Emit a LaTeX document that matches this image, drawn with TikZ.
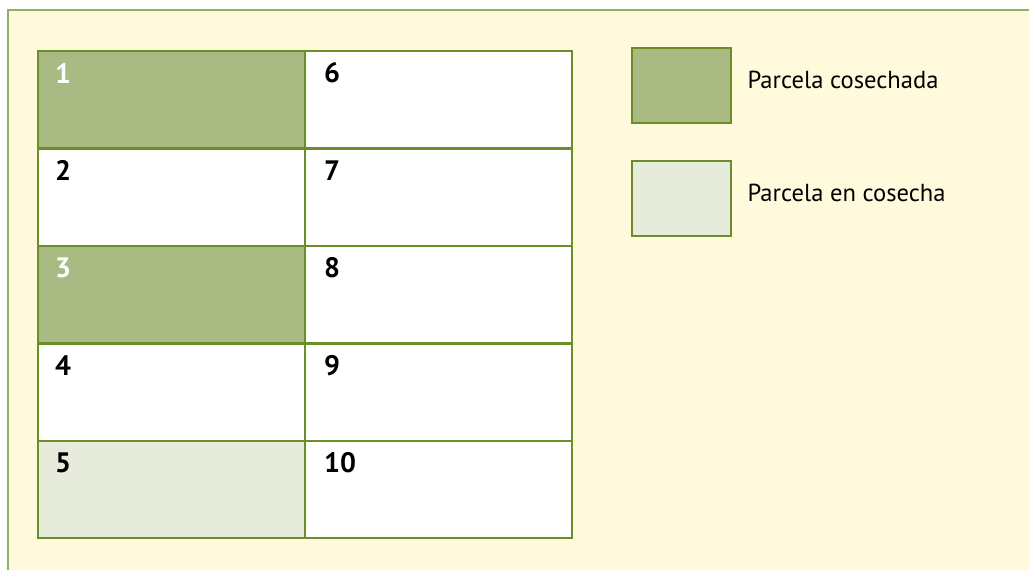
\documentclass[tikz,border=0pt]{standalone}
\usepackage{fontspec}
\setmainfont{PT Sans}
\usetikzlibrary{positioning}
\definecolor{Frame}{HTML}{92B064}
\definecolor{Paper}{HTML}{FFFADC}
\definecolor{Edge}{HTML}{6B8E2A}
\definecolor{Done}{HTML}{A9BA83}
\definecolor{Busy}{HTML}{E7EBDB}

\begin{document}
\begin{tikzpicture}[x=0.03cm, y=-0.03cm, font=\fontsize{21}{24}\selectfont,
  cell/.style={draw=Edge, line width=2pt, minimum width=8.01cm,
    minimum height=2.922cm, inner sep=0pt, anchor=north west},
  num/.style={font=\fontsize{24}{27}\selectfont\bfseries, anchor=west, inner sep=0pt}]
  \useasboundingbox (0,0) rectangle (1029,570);
  \fill[Paper] (8,10) rectangle (1029,570);
  \draw[Frame, line width=1.7pt] (8,570) -- (8,10) -- (1029,10);
  % plots
  \foreach \r/\f/\c in {1/Done/white, 2/white/black, 3/Done/white, 4/white/black, 5/Busy/black} {
    \pgfmathtruncatemacro{\s}{\r+5}
    \node[cell, fill=\f] (a\r) at (37, {50+(\r-1)*97.4}) {};
    \node[cell, fill=white] (b\r) at (304, {50+(\r-1)*97.4}) {};
    \node[num, text=\c] (na\r) at ([shift={(18,23)}]a\r.north west) {\r};
    \node[num] (nb\r) at ([shift={(20,23)}]b\r.north west) {\s};
  }
  % legend
  \node[cell, fill=Done, minimum width=2.97cm, minimum height=2.25cm] (kdone) at (631,47) {};
  \node[right=0.45cm of kdone, inner sep=0pt, yshift=0.17cm] (tdone) {Parcela cosechada};
  \node[cell, fill=Busy, minimum width=2.97cm, minimum height=2.25cm] (kbusy) at (631,160) {};
  \node[right=0.45cm of kbusy, inner sep=0pt, yshift=0.17cm] (tbusy) {Parcela en cosecha};
\end{tikzpicture}
\end{document}
